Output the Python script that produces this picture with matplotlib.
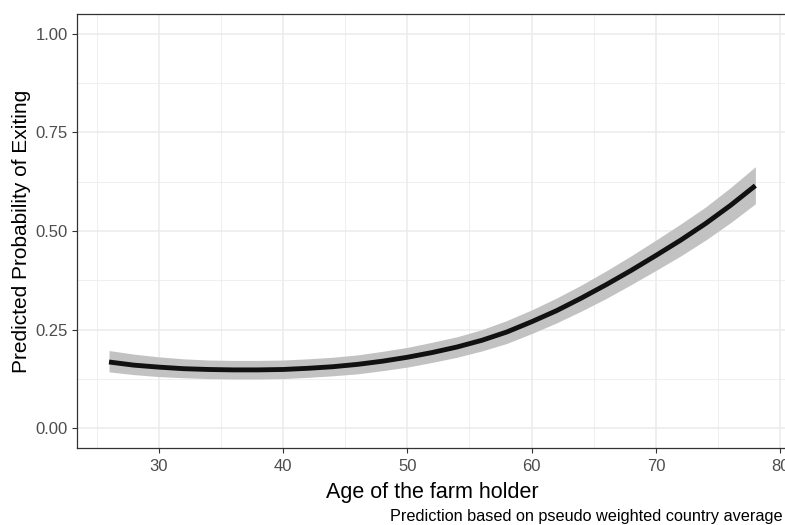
import numpy as np
import matplotlib.pyplot as plt
from matplotlib.ticker import MultipleLocator

plt.rcParams['font.family'] = ['Liberation Sans', 'DejaVu Sans']

# predicted probabilities with confidence band
age = [26, 28, 30, 32, 34, 36, 38, 40, 42, 44, 46, 48, 50, 52,
       54, 56, 58, 60, 62, 64, 66, 68, 70, 72, 74, 76, 78]
prob = [0.168, 0.160, 0.155, 0.151, 0.149, 0.148, 0.148, 0.149, 0.152,
        0.156, 0.162, 0.170, 0.180, 0.192, 0.206, 0.223, 0.244, 0.270,
        0.298, 0.330, 0.364, 0.400, 0.438, 0.477, 0.519, 0.565, 0.615]
lower = [0.143, 0.136, 0.131, 0.128, 0.126, 0.125, 0.125, 0.126, 0.129,
         0.133, 0.138, 0.146, 0.155, 0.167, 0.180, 0.196, 0.215, 0.240,
         0.267, 0.297, 0.329, 0.364, 0.400, 0.437, 0.477, 0.521, 0.569]
upper = [0.197, 0.188, 0.181, 0.176, 0.173, 0.172, 0.172, 0.173, 0.176,
         0.180, 0.186, 0.195, 0.205, 0.218, 0.232, 0.250, 0.273, 0.300,
         0.330, 0.363, 0.399, 0.437, 0.477, 0.518, 0.561, 0.610, 0.663]

fig = plt.figure(figsize=(7.85, 5.25), dpi=100)
ax = fig.add_axes([76.7/785, 1 - 448/525, 711/785, 434/525])

ax.fill_between(age, lower, upper, color='#C2C2C2', lw=0, zorder=2)
ax.plot(age, prob, color='#111111', lw=3.5, solid_capstyle='butt',
        solid_joinstyle='round', zorder=3)

ax.set_xlim(23.4, 80.6)
ax.set_ylim(-0.05, 1.05)
ax.xaxis.set_major_locator(MultipleLocator(10))
ax.xaxis.set_minor_locator(MultipleLocator(5))
ax.set_yticks([0, 0.25, 0.5, 0.75, 1.0])
ax.set_yticklabels(['0.00', '0.25', '0.50', '0.75', '1.00'])
ax.yaxis.set_minor_locator(MultipleLocator(0.125))

ax.grid(which='major', color='#EBEBEB', lw=1.1, zorder=0)
ax.grid(which='minor', color='#EBEBEB', lw=0.55, zorder=0)
ax.set_axisbelow(True)
ax.tick_params(which='minor', length=0)
ax.tick_params(which='major', length=3.3, width=0.8, color='#333333',
               labelcolor='#4D4D4D', labelsize=12, pad=3)
ax.tick_params(axis='x', pad=4.5)
for s in ax.spines.values():
    s.set_color('#333333')
    s.set_linewidth(0.9)

ax.set_xlabel('Age of the farm holder', fontsize=15.5, color='black', labelpad=6)
ax.set_ylabel('Predicted Probability of Exiting', fontsize=15, color='black', labelpad=3)
fig.text(783/785, 1 - 517/525, 'Prediction based on pseudo weighted country average',
         ha='right', va='center', fontsize=11.7)

plt.savefig('out.png', dpi=100)
